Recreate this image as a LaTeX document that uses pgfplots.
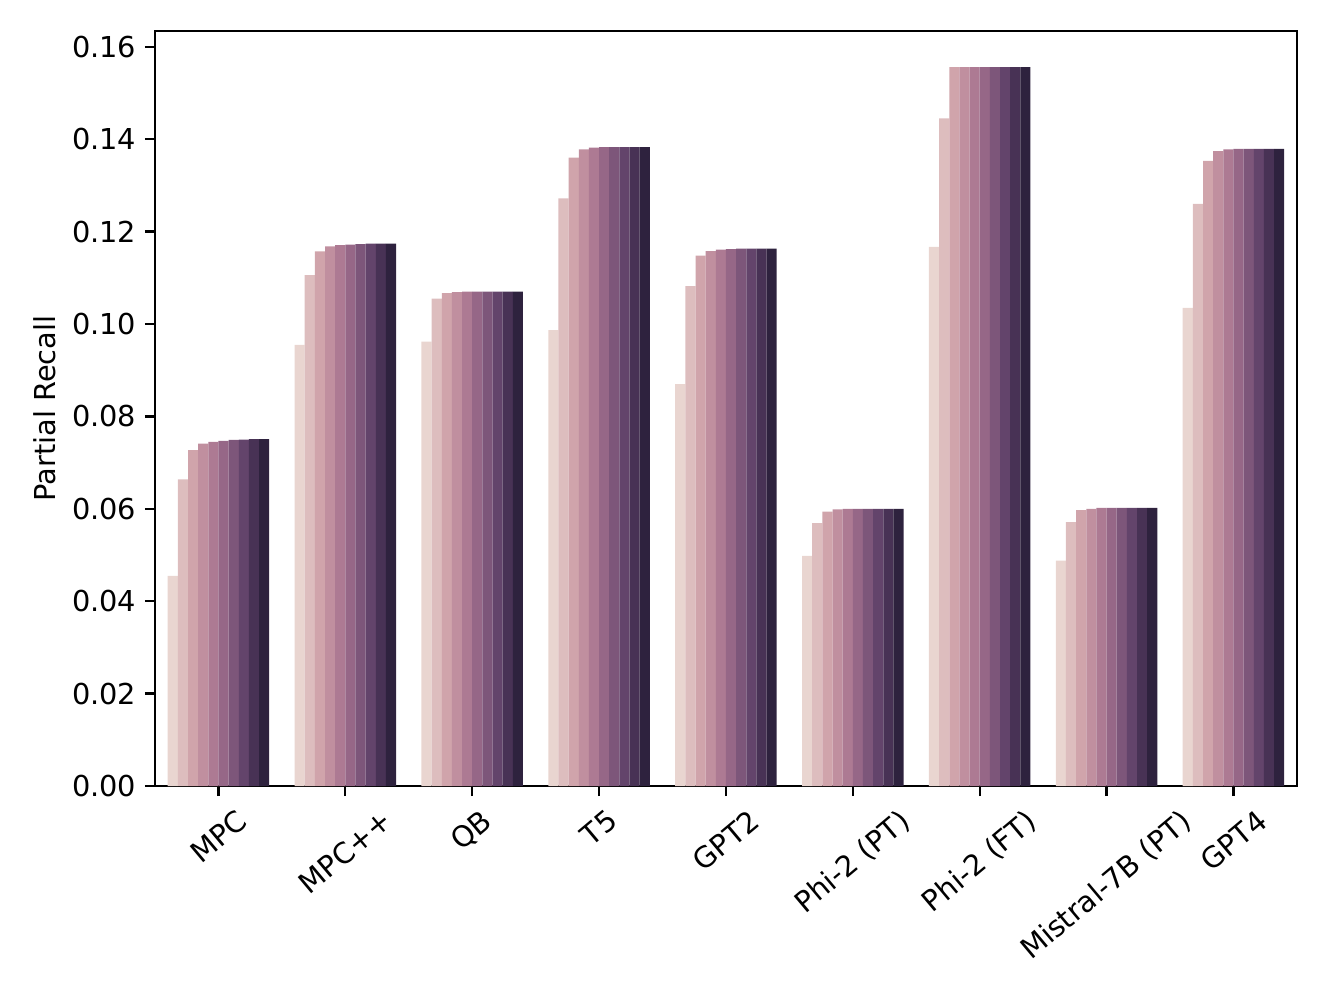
\documentclass[border=0pt]{standalone}
\usepackage{fontspec}
\setmainfont{DejaVu Sans}
\usepackage{graphicx}
\usepackage{pgfplots}
\usepackage{pgfplotstable}
\pgfplotsset{compat=1.18}

\definecolor{c1}{HTML}{E9D5D0}
\definecolor{c2}{HTML}{DDBDBE}
\definecolor{c3}{HTML}{D0A4AB}
\definecolor{c4}{HTML}{C08F9F}
\definecolor{c5}{HTML}{AD7A93}
\definecolor{c6}{HTML}{966787}
\definecolor{c7}{HTML}{7D567A}
\definecolor{c8}{HTML}{63446B}
\definecolor{c9}{HTML}{483255}
\definecolor{c10}{HTML}{2E223E}

% one row per model, columns = the ten hue levels
\pgfplotstableread{
x  b1     b2     b3     b4     b5     b6     b7     b8     b9     b10
0  0.0455 0.0664 0.0727 0.0741 0.0745 0.0747 0.0749 0.0750 0.0751 0.0751
1  0.0955 0.1106 0.1157 0.1168 0.1171 0.1172 0.1173 0.1174 0.1174 0.1174
2  0.0962 0.1055 0.1067 0.1069 0.1070 0.1070 0.1070 0.1070 0.1070 0.1070
3  0.0987 0.1272 0.1360 0.1378 0.1382 0.1383 0.1383 0.1383 0.1383 0.1383
4  0.0870 0.1082 0.1148 0.1158 0.1161 0.1162 0.1163 0.1163 0.1163 0.1163
5  0.0498 0.0569 0.0594 0.0599 0.0600 0.0600 0.0600 0.0600 0.0600 0.0600
6  0.1167 0.1445 0.1556 0.1556 0.1556 0.1556 0.1556 0.1556 0.1556 0.1556
7  0.0488 0.0571 0.0597 0.0600 0.0602 0.0602 0.0602 0.0602 0.0602 0.0602
8  0.1035 0.1260 0.1353 0.1374 0.1378 0.1379 0.1379 0.1379 0.1379 0.1379
}\recall

\begin{document}
\begin{tikzpicture}
\begin{axis}[
    name=ax,
    scale only axis,
    width=396.3pt, height=262pt,
    xmin=-0.5, xmax=8.5,
    ymin=0, ymax=0.1634,
    ybar=0pt, bar width=0.08,
    axis line style={line width=0.8pt},
    tick style={line width=0.8pt, black},
    tick align=outside, major tick length=3.5pt,
    xtick pos=bottom, ytick pos=left,
    xtick=data,
    xticklabels={\rotatebox{40}{MPC},\rotatebox{40}{MPC++},\rotatebox{40}{QB},
        \rotatebox{40}{T5},\rotatebox{40}{GPT2},\rotatebox{40}{Phi-2 (PT)},
        \rotatebox{40}{Phi-2 (FT)},\rotatebox{40}{Mistral-7B (PT)},\rotatebox{40}{GPT4}},
    xticklabel style={anchor=north, inner sep=0pt, yshift=-3.9pt},
    ytick={0,0.02,0.04,0.06,0.08,0.10,0.12,0.14,0.16},
    yticklabel style={anchor=east, inner sep=0pt, xshift=-2.8pt,
        /pgf/number format/fixed, /pgf/number format/fixed zerofill,
        /pgf/number format/precision=2},
    /pgf/number format/assume math mode=true,
    scaled y ticks=false,
    tick label style={font=\fontsize{10}{12}\selectfont},
    ylabel={Partial Recall},
    ylabel style={at={([xshift=-38.2pt]axis description cs:0,0.5)}, anchor=center,
        font=\fontsize{10}{12}\selectfont},
]
\addplot[fill=c1, draw=none] table[x=x, y=b1] {\recall};
\addplot[fill=c2, draw=none] table[x=x, y=b2] {\recall};
\addplot[fill=c3, draw=none] table[x=x, y=b3] {\recall};
\addplot[fill=c4, draw=none] table[x=x, y=b4] {\recall};
\addplot[fill=c5, draw=none] table[x=x, y=b5] {\recall};
\addplot[fill=c6, draw=none] table[x=x, y=b6] {\recall};
\addplot[fill=c7, draw=none] table[x=x, y=b7] {\recall};
\addplot[fill=c8, draw=none] table[x=x, y=b8] {\recall};
\addplot[fill=c9, draw=none] table[x=x, y=b9] {\recall};
\addplot[fill=c10, draw=none] table[x=x, y=b10] {\recall};
\end{axis}
\pgfresetboundingbox
\path ([shift={(-53.8pt,-72.9pt)}]ax.south west) rectangle ([shift={(10.8pt,10.8pt)}]ax.north east);
\end{tikzpicture}
\end{document}
